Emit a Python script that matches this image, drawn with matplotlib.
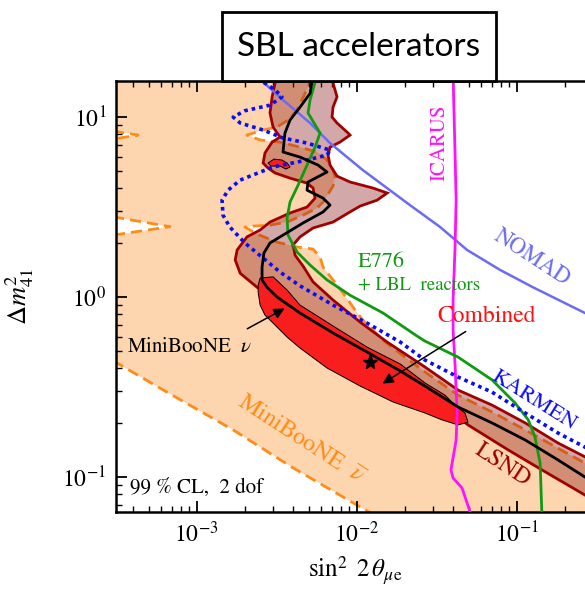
import matplotlib
matplotlib.use("Agg")
import matplotlib.pyplot as plt
from matplotlib.patches import Rectangle
from matplotlib.ticker import LogLocator, NullFormatter, LogFormatterMathtext

plt.rcParams['font.family'] = ['STIXGeneral', 'DejaVu Serif']
plt.rcParams['mathtext.fontset'] = 'stix'

# ---------------- data (sin^2 2theta, Delta m^2) ----------------
# MiniBooNE anti-nu 99% boundary (upper/right edge, top to bottom)
mbbar_edge_s2 = [5.11e-3, 5.11e-3, 4.75e-3, 4.24e-3, 3.72e-3, 3.18e-3, 2.60e-3, 2.06e-3, 2.49e-3,
                 3.32e-3, 4.42e-3, 5.65e-3, 6.52e-3, 7.11e-3, 7.32e-3, 7.11e-3, 6.16e-3, 5.65e-3,
                 4.62e-3, 3.67e-3, 2.87e-3, 2.25e-3, 2.00e-3, 2.38e-3, 3.18e-3, 4.24e-3, 5.33e-3,
                 5.90e-3, 6.16e-3, 7.11e-3, 8.21e-3, 9.48e-3, 1.09e-2, 1.46e-2, 2.00e-2, 2.67e-2,
                 4.30e-2, 7.01e-2, 0.113, 0.181, 0.267, 0.332]
mbbar_edge_dm2 = [17.0, 15.6, 13.5, 10.9, 9.59, 8.77, 8.44, 7.91, 7.43, 7.23, 6.78, 6.37, 5.75,
                  5.06, 4.62, 4.12, 3.36, 3.11, 2.84, 2.60, 2.50, 2.47, 2.44, 2.23, 2.01, 1.89,
                  1.84, 1.66, 1.46, 1.24, 1.05, 0.876, 0.742, 0.574, 0.462, 0.382, 0.284, 0.229,
                  0.182, 0.144, 0.119, 0.108]
# MiniBooNE anti-nu lower-left edge
mbbar_low_s2 = [2.49e-4, 3.18e-4, 6.52e-4, 1.69e-3, 4.00e-3, 1.25e-2, 1.40e-2]
mbbar_low_dm2 = [0.506, 0.428, 0.295, 0.182, 0.112, 0.0621, 0.0574]
# small excluded notches at the left edge
notch1_s2 = [3.0e-4, 4.30e-4, 3.0e-4]
notch1_dm2 = [8.33, 7.91, 7.52]
notch2_s2 = [3.0e-4, 6.81e-4, 3.0e-4]
notch2_dm2 = [2.78, 2.45, 2.20]

# LSND 99% region
lsnd_s2 = [3.09e-3, 7.11e-3, 7.11e-3, 7.53e-3, 7.11e-3, 7.01e-3, 7.53e-3, 8.83e-3, 9.08e-3,
           7.86e-3, 6.81e-3, 6.62e-3, 6.81e-3, 7.53e-3, 9.08e-3, 1.26e-2, 1.55e-2, 1.34e-2,
           1.05e-2, 9.08e-3, 7.11e-3, 5.33e-3, 4.42e-3, 4.00e-3, 4.12e-3, 4.62e-3, 5.33e-3,
           7.11e-3, 1.05e-2, 1.55e-2, 2.67e-2, 4.30e-2, 7.01e-2, 0.113, 0.181, 0.267, 0.332,
           0.332, 0.267, 0.144, 8.83e-2, 4.96e-2, 3.32e-2, 1.87e-2, 9.08e-3, 4.42e-3, 2.38e-3,
           1.87e-3, 1.74e-3, 1.79e-3, 2.06e-3, 2.49e-3, 2.87e-3, 3.83e-3, 4.89e-3, 5.49e-3,
           5.33e-3, 4.89e-3, 3.83e-3, 3.09e-3, 2.79e-3, 2.60e-3, 2.67e-3, 2.96e-3, 3.32e-3,
           3.00e-3, 2.87e-3, 2.96e-3, 3.09e-3]
lsnd_dm2 = [17.0, 17.0, 15.4, 12.9, 11.3, 9.96, 9.23, 8.12, 7.91, 7.23, 6.78, 6.12, 5.39, 4.68,
            4.34, 4.02, 3.77, 3.44, 3.19, 2.96, 2.60, 2.41, 2.15, 1.94, 1.70, 1.48, 1.21, 0.959,
            0.723, 0.560, 0.407, 0.303, 0.250, 0.199, 0.154, 0.129, 0.116,
            0.0714, 0.0791, 0.109, 0.141, 0.194, 0.257, 0.345, 0.519, 0.781, 1.13, 1.35, 1.60,
            1.82, 2.15, 2.35, 2.60, 2.92, 3.15, 3.53, 4.02, 4.28, 4.56, 4.87, 5.19, 5.53, 6.29,
            7.23, 7.71, 8.77, 10.5, 12.9, 15.4]

# MiniBooNE nu (black)
mbnu_s2 = [5.33e-3, 5.11e-3, 4.42e-3, 3.83e-3, 3.56e-3, 3.46e-3, 4.42e-3, 5.73e-3, 6.52e-3,
           4.96e-3, 4.89e-3, 6.16e-3, 6.81e-3, 6.16e-3, 4.62e-3, 3.46e-3, 2.87e-3, 2.63e-3,
           2.56e-3, 2.56e-3, 2.75e-3, 3.18e-3, 4.42e-3, 7.11e-3, 1.16e-2, 1.87e-2, 2.67e-2,
           4.30e-2, 7.01e-2, 0.113, 0.181, 0.267, 0.332]
mbnu_dm2 = [17.0, 13.5, 11.3, 9.59, 8.12, 6.37, 5.97, 5.39, 4.93, 4.34, 3.91, 3.53, 3.23, 2.96,
            2.57, 2.20, 1.99, 1.75, 1.46, 1.24, 1.13, 0.996, 0.812, 0.629, 0.493, 0.387, 0.319,
            0.244, 0.199, 0.160, 0.124, 0.0996, 0.0899]

# E776 + LBL reactors (green)
e776_s2 = [5.65e-3, 5.11e-3, 4.96e-3, 5.90e-3, 5.49e-3, 4.89e-3, 4.30e-3, 3.83e-3, 3.67e-3,
           3.72e-3, 4.24e-3, 5.11e-3, 6.52e-3, 9.08e-3, 1.46e-2, 2.38e-2, 2.67e-2, 4.30e-2,
           7.01e-2, 9.76e-2, 0.118, 0.130, 0.140, 0.144]
e776_dm2 = [17.0, 12.4, 10.5, 8.12, 6.78, 5.39, 4.17, 3.36, 2.74, 2.20, 1.77, 1.50, 1.24, 1.02,
            0.812, 0.605, 0.567, 0.462, 0.345, 0.257, 0.207, 0.166, 0.119, 0.0574]

# KARMEN (blue dotted)
karmen_s2 = [2.56e-3, 2.60e-3, 3.09e-3, 3.41e-3, 2.87e-3, 2.00e-3, 1.69e-3, 1.87e-3, 2.60e-3,
             3.46e-3, 4.89e-3, 6.81e-3, 6.52e-3, 4.89e-3, 3.00e-3, 1.87e-3, 1.57e-3, 1.44e-3,
             1.46e-3, 1.61e-3, 2.00e-3, 2.60e-3, 3.32e-3, 4.42e-3, 7.11e-3, 1.16e-2, 1.87e-2,
             2.67e-2, 4.30e-2, 7.01e-2, 0.113, 0.181, 0.267, 0.332]
karmen_dm2 = [17.0, 15.6, 14.1, 12.9, 11.6, 10.8, 9.96, 9.23, 8.44, 7.62, 7.14, 6.53, 6.12, 5.75,
              5.26, 4.45, 3.91, 3.44, 2.84, 2.44, 1.99, 1.64, 1.37, 1.15, 0.899, 0.714, 0.560,
              0.445, 0.358, 0.295, 0.226, 0.175, 0.146, 0.132]

# NOMAD
nomad_s2 = [2.42e-3, 2.60e-3, 3.46e-3, 5.11e-3, 6.81e-3, 1.09e-2, 2.15e-2, 3.32e-2, 4.89e-2,
            7.86e-2, 0.126, 0.267, 0.332]
nomad_dm2 = [17.0, 15.6, 12.4, 9.23, 7.14, 5.06, 3.23, 2.44, 1.82, 1.41, 1.13, 0.812, 0.733]

# ICARUS
icarus_s2 = [4.00e-2, 4.11e-2, 4.18e-2, 4.11e-2, 4.00e-2, 4.00e-2, 4.11e-2, 4.24e-2, 4.18e-2,
             3.88e-2, 4.00e-2, 4.55e-2, 5.11e-2, 5.26e-2]
icarus_dm2 = [17.0, 6.53, 3.44, 1.82, 0.959, 0.653, 0.428, 0.226, 0.160, 0.109, 0.0984, 0.0866,
              0.0637, 0.0574]

# Combined allowed region
comb_s2 = [2.49e-3, 3.00e-3, 3.67e-3, 4.42e-3, 7.11e-3, 1.16e-2, 1.87e-2, 2.67e-2, 3.56e-2,
           4.11e-2, 4.75e-2, 4.96e-2, 4.30e-2, 3.41e-2, 2.67e-2, 1.69e-2, 1.05e-2, 6.52e-3,
           4.42e-3, 3.67e-3, 3.00e-3, 2.67e-3, 2.49e-3, 2.42e-3, 2.42e-3]
comb_dm2 = [1.27, 1.29, 1.09, 0.899, 0.688, 0.525, 0.423, 0.332, 0.284, 0.250, 0.226, 0.201,
            0.194, 0.207, 0.226, 0.260, 0.319, 0.402, 0.519, 0.597, 0.714, 0.791, 0.899, 1.06,
            1.16]
island_s2 = [2.79e-3, 3.04e-3, 3.41e-3, 3.67e-3, 3.83e-3, 3.61e-3, 3.32e-3, 2.91e-3]
island_dm2 = [5.53, 5.82, 5.75, 5.53, 5.26, 5.12, 5.32, 5.32]

best_fit = (1.21e-2, 0.434)

arrow_nu = [(2.00e-3, 0.653), (3.67e-3, 0.876)]      # tail, head
arrow_comb = [(4.96e-2, 0.653), (1.40e-2, 0.323)]

xlim = (3.13e-4, 0.267)
ylim = (0.0637, 15.8)

# ---------------- styles ----------------
C_ORANGE_FILL = '#FDD5AE'
C_ORANGE = '#FF8C1A'
C_LSND_EDGE = '#A00000'
C_RED = '#F81E1E'

fig = plt.figure(figsize=(5.85, 5.89), dpi=100)
ax = fig.add_axes([116/585, 1 - 512/589, 1 - 116/585, (512 - 81)/589])
ax.set_xscale('log')
ax.set_yscale('log')
ax.set_xlim(*xlim)
ax.set_ylim(*ylim)

# orange (MiniBooNE anti-nu) region
ox = [2.4e-4] + mbbar_edge_s2 + [0.35, 0.35] + mbbar_low_s2[::-1] + notch2_s2[::-1] + notch1_s2[::-1]
oy = [17.0] + mbbar_edge_dm2 + [0.108, 0.05] + mbbar_low_dm2[::-1] + notch2_dm2[::-1] + notch1_dm2[::-1]
ax.fill(ox, oy, color=C_ORANGE_FILL, lw=0, zorder=1)
dash = (0, (4, 2.2))
for xs, ys in [(mbbar_edge_s2, mbbar_edge_dm2), (mbbar_low_s2, mbbar_low_dm2),
               (notch1_s2, notch1_dm2), (notch2_s2, notch2_dm2)]:
    ax.plot(xs, ys, color=C_ORANGE, lw=2.0, ls=dash, zorder=1.5)

# LSND
ax.fill(lsnd_s2, lsnd_dm2, facecolor=(0.55, 0.1, 0.1, 0.38), edgecolor='none', zorder=2)
ax.fill(lsnd_s2, lsnd_dm2, facecolor='none', edgecolor=C_LSND_EDGE, lw=2.0, zorder=2.5)

# Combined
ax.fill(comb_s2, comb_dm2, facecolor=C_RED, edgecolor='black', lw=0.7, zorder=3)
ax.fill(island_s2, island_dm2, facecolor=C_RED, edgecolor='black', lw=0.7, zorder=3)

# exclusion / other curves
ax.plot(nomad_s2, nomad_dm2, color='#6B6BF5', lw=1.8, zorder=4)
ax.plot(icarus_s2, icarus_dm2, color='#FF10FF', lw=2.0, zorder=4)
ax.plot(e776_s2, e776_dm2, color='#119A11', lw=2.0, zorder=4)
ax.plot(karmen_s2, karmen_dm2, color='#0A0AFF', lw=2.6, ls=(0, (1.0, 1.1)), zorder=4)
ax.plot(mbnu_s2, mbnu_dm2, color='black', lw=2.0, zorder=4.5)
ax.plot([best_fit[0]], [best_fit[1]], marker='*', color='black', ms=11, zorder=5)

# arrows
ax.annotate('', xy=arrow_nu[1], xytext=arrow_nu[0],
            arrowprops=dict(arrowstyle='-|>', color='black', lw=1.1, mutation_scale=16), zorder=6)
ax.annotate('', xy=arrow_comb[1], xytext=arrow_comb[0],
            arrowprops=dict(arrowstyle='-|>', color='black', lw=1.1, mutation_scale=16), zorder=6)

# labels
ax.text(6.52e-2, 0.781, 'Combined', color='#FF1010', fontsize=17, ha='center', va='center', zorder=7)
ax.text(3.67e-4, 0.525, r'MiniBooNE  $\nu$', color='black', fontsize=15, ha='left', va='center', zorder=7)
ax.text(1.02e-2, 1.56, 'E776', color='#119A11', fontsize=16, ha='left', va='center', zorder=7)
ax.text(1.02e-2, 1.16, '+ LBL  reactors', color='#119A11', fontsize=13.5, ha='left', va='center', zorder=7)
ax.text(0.128, 0.267, 'KARMEN', color='#0A0AFF', fontsize=16, ha='center', va='center',
        rotation=-32, rotation_mode='anchor', zorder=7)
ax.text(8.21e-2, 0.116, 'LSND', color='#990000', fontsize=17, ha='center', va='center',
        rotation=-33, rotation_mode='anchor', zorder=7)
ax.text(4.42e-3, 0.160, r'MiniBooNE  $\overline{\nu}$', color=C_ORANGE, fontsize=17.5, ha='center',
        va='center', rotation=-33, rotation_mode='anchor', zorder=7)
ax.text(0.125, 1.64, 'NOMAD', color='#6B6BF5', fontsize=16.5, ha='center', va='center',
        rotation=-33, rotation_mode='anchor', zorder=7)
ax.text(3.32e-2, 7.14, 'ICARUS', color='#FF10FF', fontsize=15, ha='center', va='center',
        rotation=90, zorder=7)
ax.text(3.83e-4, 0.0866, '99 % CL,  2 dof', color='black', fontsize=15, ha='left', va='center', zorder=7)

# axes styling
for side in ['left', 'top', 'bottom']:
    ax.spines[side].set_linewidth(1.8)
ax.spines['right'].set_visible(False)
ax.xaxis.set_major_locator(LogLocator(base=10, numticks=10))
ax.xaxis.set_minor_locator(LogLocator(base=10, subs=range(2, 10), numticks=20))
ax.yaxis.set_major_locator(LogLocator(base=10, numticks=10))
ax.yaxis.set_minor_locator(LogLocator(base=10, subs=range(2, 10), numticks=20))
ax.xaxis.set_major_formatter(LogFormatterMathtext())
ax.yaxis.set_major_formatter(LogFormatterMathtext())
ax.xaxis.set_minor_formatter(NullFormatter())
ax.yaxis.set_minor_formatter(NullFormatter())
ax.tick_params(which='both', direction='in', top=True, right=False, labelsize=17)
ax.tick_params(which='major', length=8, width=1.3, pad=7)
ax.tick_params(which='minor', length=4, width=1.0)
ax.set_xlabel(r'$\sin^{2}\ 2\,\theta_{\mu \mathrm{e}}$', fontsize=18)
ax.xaxis.set_label_coords(0.51, -0.098)
ax.set_ylabel(r'$\Delta m^{2}_{41}$', fontsize=19)
ax.yaxis.set_label_coords(-0.17, 0.5)

# title box
fig.add_artist(Rectangle((222/585, 1 - 81/589), 274/585, 69/589, transform=fig.transFigure,
                         facecolor='white', edgecolor='black', lw=2, zorder=10))
fig.text((222 + 496)/2/585, 1 - 47/589, 'SBL accelerators', family='Lato', fontsize=24,
         ha='center', va='center', zorder=11)

fig.savefig('out.png', dpi=100)
